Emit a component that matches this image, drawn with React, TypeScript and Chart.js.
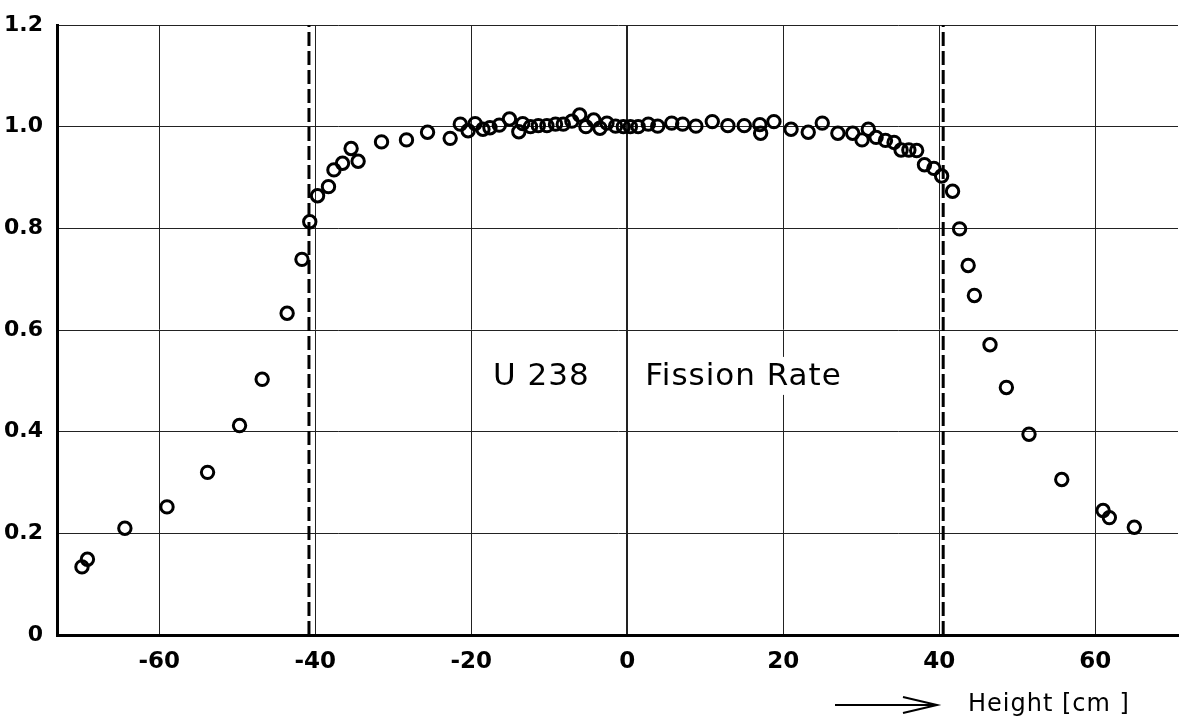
import React, { useEffect, useRef } from "react";
import { Chart, registerables } from "chart.js";

Chart.register(...registerables);

// Measured U-238 fission rate (relative) vs. height [cm]
const X_VALUES = [
  -69.9, -69.2, -64.4, -59.0, -53.8, -49.7, -46.8, -43.6, -41.7, -40.7,
  -39.7, -38.3, -37.6, -36.5, -35.4, -34.5, -31.5, -28.3, -25.6, -22.7,
  -21.4, -20.4, -19.5, -18.5, -17.6, -16.4, -15.1, -13.9, -13.4, -12.4,
  -11.4, -10.3, -9.2, -8.2, -7.1, -6.1, -5.3, -4.3, -3.5, -2.6,
  -1.5, -0.5, 0.4, 1.4, 2.7, 3.9, 5.7, 7.1, 8.8, 10.9,
  12.9, 15.0, 17.0, 17.1, 18.8, 21.0, 23.2, 25.0, 27.0, 28.9,
  30.1, 30.9, 31.9, 33.1, 34.2, 35.1, 36.1, 37.1, 38.1, 39.3,
  40.3, 41.7, 42.6, 43.7, 44.5, 46.5, 48.6, 51.5, 55.7, 61.0,
  61.8, 65.0,
];
const Y_VALUES = [
  0.134, 0.149, 0.210, 0.252, 0.320, 0.412, 0.503, 0.633, 0.739, 0.813,
  0.864, 0.882, 0.915, 0.928, 0.957, 0.932, 0.970, 0.974, 0.989, 0.977,
  1.005, 0.992, 1.006, 0.995, 0.998, 1.003, 1.015, 0.990, 1.006, 1.000,
  1.002, 1.002, 1.005, 1.005, 1.011, 1.023, 1.000, 1.013, 0.997, 1.007,
  1.001, 1.000, 1.000, 1.000, 1.005, 1.001, 1.007, 1.005, 1.001, 1.010,
  1.002, 1.002, 1.004, 0.987, 1.010, 0.995, 0.989, 1.007, 0.987, 0.987,
  0.974, 0.995, 0.979, 0.973, 0.969, 0.954, 0.954, 0.953, 0.925, 0.918,
  0.903, 0.873, 0.799, 0.727, 0.668, 0.571, 0.487, 0.395, 0.306, 0.245,
  0.231, 0.212,
];

// Core boundaries (dashed verticals)
const CORE_EDGES = [-40.8, 40.5];

const X_TICKS = [-60, -40, -20, 0, 20, 40, 60];
const Y_TICKS = [0, 0.2, 0.4, 0.6, 0.8, 1.0, 1.2];
const X_MIN = -73.1;
const X_MAX = 70.6;
const Y_MIN = 0;
const Y_MAX = 1.2;

const LABEL_ISOTOPE = "U 238";
const LABEL_QUANTITY = "Fission Rate";
const X_TITLE = "Height [cm ]";

const FONT = '"DejaVu Sans", sans-serif';

const annotatePlugin = {
  id: "annotate",
  afterDatasetsDraw(chart: any) {
    const { ctx, chartArea, scales } = chart;
    const x = scales.x;
    const y = scales.y;
    ctx.save();
    // In-plot label with white knock-out background
    ctx.font = `31px ${FONT}`;
    (ctx as any).letterSpacing = "1px";
    ctx.textBaseline = "alphabetic";
    const base = y.getPixelForValue(0.492);
    const drawLabel = (text: string, xv: number) => {
      const px = x.getPixelForValue(xv);
      const w = ctx.measureText(text).width;
      ctx.fillStyle = "#fff";
      ctx.fillRect(px - 4, base - 28, w + 6, 38);
      ctx.fillStyle = "#000";
      ctx.fillText(text, px, base);
    };
    drawLabel(LABEL_ISOTOPE, -17.2);
    drawLabel(LABEL_QUANTITY, 2.3);

    // Axis title with arrow
    const ty = chartArea.bottom + 76;
    const tx = chartArea.right - 210;
    ctx.font = `24px ${FONT}`;
    (ctx as any).letterSpacing = "1px";
    ctx.fillStyle = "#000";
    ctx.fillText(X_TITLE, tx, ty);

    const ay = chartArea.bottom + 70;
    const ax0 = chartArea.right - 343;
    const ax1 = chartArea.right - 241;
    ctx.strokeStyle = "#000";
    ctx.lineWidth = 2;
    ctx.beginPath();
    ctx.moveTo(ax0, ay);
    ctx.lineTo(ax1, ay);
    ctx.moveTo(ax1 - 34, ay - 8);
    ctx.lineTo(ax1, ay);
    ctx.lineTo(ax1 - 34, ay + 8);
    ctx.stroke();
    ctx.restore();
  },
};

export default function App() {
  const canvasRef = useRef<HTMLCanvasElement | null>(null);

  useEffect(() => {
    if (!canvasRef.current) return;
    const points = X_VALUES.map((xv, i) => ({ x: xv, y: Y_VALUES[i] }));
    const edgeSets = CORE_EDGES.map((e) => ({
      type: "line" as const,
      data: [
        { x: e, y: Y_MIN },
        { x: e, y: Y_MAX },
      ],
      borderColor: "#000",
      borderWidth: 3,
      borderDash: [14, 5],
      pointRadius: 0,
      showLine: true,
      fill: false,
    }));

    const chart = new Chart(canvasRef.current, {
      type: "scatter",
      data: {
        datasets: [
          {
            data: points,
            pointStyle: "circle",
            pointRadius: 6.2,
            pointBorderWidth: 3,
            borderColor: "#000",
            pointBorderColor: "#000",
            backgroundColor: "rgba(0,0,0,0)",
            pointBackgroundColor: "rgba(0,0,0,0)",
            showLine: false,
          } as any,
          ...(edgeSets as any[]),
        ],
      },
      options: {
        responsive: false,
        animation: false,
        devicePixelRatio: 1,
        layout: { autoPadding: false, padding: { top: 25, right: 2, left: 0, bottom: 0 } },
        plugins: {
          legend: { display: false },
          tooltip: { enabled: false },
        },
        scales: {
          x: {
            type: "linear",
            min: X_MIN,
            max: X_MAX,
            afterBuildTicks: (s: any) => {
              s.ticks = X_TICKS.map((v) => ({ value: v }));
            },
            afterFit: (s: any) => {
              s.height = 88;
              s.paddingLeft = 0;
              s.paddingRight = 0;
            },
            grid: {
              color: "#222",
              lineWidth: (c: any) => (c.tick && c.tick.value === 0 ? 2 : 1),
              drawTicks: false,
            },
            border: { display: true, color: "#000", width: 3 },
            ticks: {
              color: "#000",
              font: { family: FONT, size: 23, weight: "bold" },
              padding: 13,
              autoSkip: false,
              maxRotation: 0,
              callback: (v: any) => String(v),
            },
          },
          y: {
            type: "linear",
            min: Y_MIN,
            max: Y_MAX,
            afterBuildTicks: (s: any) => {
              s.ticks = Y_TICKS.map((v) => ({ value: v }));
            },
            afterFit: (s: any) => {
              s.width = 57;
              s.paddingTop = 0;
              s.paddingBottom = 0;
            },
            grid: {
              color: "#222",
              lineWidth: 1,
              drawTicks: false,
            },
            border: { display: true, color: "#000", width: 3 },
            ticks: {
              color: "#000",
              font: { family: FONT, size: 22, weight: "bold" },
              padding: 14,
              autoSkip: false,
              callback: (v: any) => (Number(v) === 0 ? "0" : Number(v).toFixed(1)),
            },
          },
        },
      } as any,
      plugins: [annotatePlugin],
    });
    return () => chart.destroy();
  }, []);

  return (
    <div style={{ position: "fixed", left: 0, top: 0, width: 1180, height: 723, background: "#fff" }}>
      <canvas ref={canvasRef} width={1180} height={723} style={{ width: 1180, height: 723, display: "block" }} />
    </div>
  );
}
